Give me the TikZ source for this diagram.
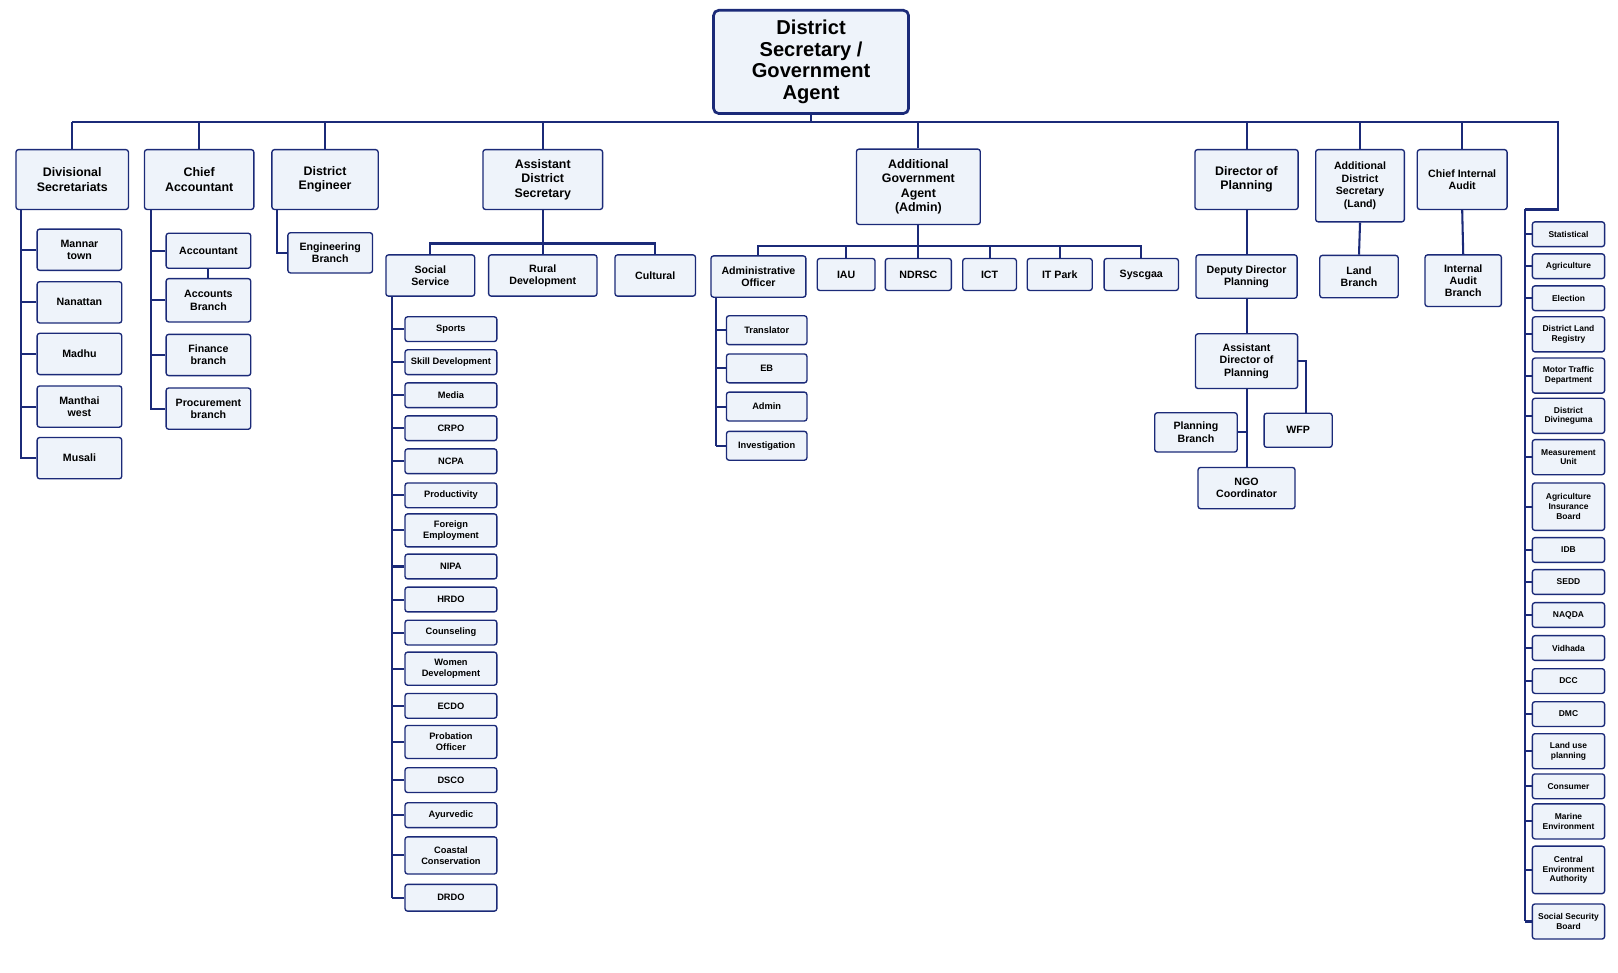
\documentclass[tikz,border=0pt]{standalone}
\usepackage{fontspec}
\setmainfont{Liberation Sans}
\begin{document}
\begin{tikzpicture}[x=1pt,y=-1pt,
 box/.style={draw=navy,fill=boxfill,rounded corners=2.5,line width=1.3,inner sep=1,align=center,font=\bfseries},
 ln/.style={draw=navy,line width=2}]
\definecolor{navy}{HTML}{1B2A78}
\definecolor{boxfill}{HTML}{EEF3FA}
\useasboundingbox[fill=white] (0,0) rectangle (1568,942);
\newcommand\bx[7]{\node[box,minimum width=#4,minimum height=#5,font=\bfseries#7] (#1) at (#2,#3) {#6};}
\def\fa{\fontsize{12}{14}\selectfont}
\def\fb{\fontsize{10.3}{12}\selectfont}
\def\fc{\fontsize{9}{10.5}\selectfont}
\def\fd{\fontsize{8.2}{9.6}\selectfont}
% title
\node[box,line width=2.6,rounded corners=5,minimum width=189,minimum height=100,font=\bfseries\fontsize{19.5}{21}\selectfont] (top) at (786,60) {District\\Secretary /\\Government\\Agent};
\coordinate (bus) at (0,118);
% level 1
\bx{ds}{70}{174}{109}{58}{Divisional\\Secretariats}{\fa}
\bx{ca}{193}{174}{106}{58}{Chief\\Accountant}{\fa}
\bx{de}{315}{174}{103}{58}{District\\Engineer}{\fa}
\bx{ads}{526}{174}{116}{58}{Assistant\\District\\Secretary}{\fa}
\bx{aga}{890}{181}{120}{73}{Additional\\Government\\Agent\\(Admin)}{\fa}
\bx{dp}{1208}{174}{100}{58}{Director of\\Planning}{\fa}
\bx{adsl}{1318}{180}{86}{70}{Additional\\District\\Secretary\\(Land)}{\fb}
\bx{cia}{1417}{174}{87}{58}{Chief Internal\\Audit}{\fb}
\coordinate (rtop) at (1510,203);
\coordinate (rsp) at (1478,203);
\draw[ln] (ds.north|-bus) -- (rtop |- bus) -- (rtop) -- (rsp);
\foreach \n in {top}{\draw[ln] (\n.south) -- (\n.south|-bus);}
\foreach \n in {ds,ca,de,ads,aga,dp,adsl,cia}{\draw[ln] (\n.north) -- (\n.north|-bus);}
% divisional
\coordinate (s1) at (20,203);
\bx{d1}{77}{242}{82}{40}{Mannar\\town}{\fb}
\bx{d2}{77}{293}{82}{40}{Nanattan}{\fb}
\bx{d3}{77}{343}{82}{40}{Madhu}{\fb}
\bx{d4}{77}{394}{82}{40}{Manthai\\west}{\fb}
\bx{d5}{77}{444}{82}{40}{Musali}{\fb}
\draw[ln] (s1) |- (d5.west);
\foreach \n in {d1,d2,d3,d4}{\draw[ln] (\n.west) -- (\n.west-|s1);}
% chief accountant
\coordinate (s2) at (146,203);
\bx{c1}{202}{243}{82}{34}{Accountant}{\fb}
\bx{c2}{202}{291}{82}{42}{Accounts\\Branch}{\fb}
\bx{c3}{202}{344}{82}{40}{Finance\\branch}{\fb}
\bx{c4}{202}{396}{82}{40}{Procurement\\branch}{\fb}
\draw[ln] (s2) |- (c4.west);
\foreach \n in {c1,c2,c3}{\draw[ln] (\n.west) -- (\n.west-|s2);}
\draw[ln] (c1.south) -- (c2.north);
% engineer
\coordinate (s3) at (268,203);
\bx{e1}{320}{245}{82}{39}{Engineering\\Branch}{\fb}
\draw[ln] (s3) |- (e1.west);
% ADS
\coordinate (h1) at (0,236);
\bx{ss}{417}{267}{86}{40}{Social\\Service}{\fb}
\bx{rd}{526}{267}{105}{40}{Rural\\Development}{\fb}
\bx{cu}{635}{267}{78}{40}{Cultural}{\fb}
\draw[ln] (ads.south) -- (ads.south|-h1);
\draw[ln] (ss.north) -- (ss.north|-h1) -- (cu.north|-h1) -- (cu.north);
\draw[ln] (rd.north) -- (rd.north|-h1);
\coordinate (s4) at (380,287);
\foreach \n/\y/\h/\t in {a1/319/24/Sports,a2/351/24/Skill Development,a3/383/24/Media,a4/415/24/CRPO,a5/447/24/NCPA,a6/480/24/Productivity,a7/514/32/{Foreign\\Employment},a8/549/24/NIPA,a9/581/24/HRDO,a10/613/24/Counseling,a11/648/32/{Women\\Development},a12/684/24/ECDO,a13/719/32/{Probation\\Officer},a14/756/24/DSCO,a15/790/24/Ayurvedic,a16/829/36/{Coastal\\Conservation},a17/870/26/DRDO}{
 \bx{\n}{437}{\y}{89}{\h}{\t}{\fc}
 \draw[ln] (\n.west) -- (\n.west-|s4);}
\draw[ln] (s4) -- (a17.west-|s4);
% AGA
\coordinate (h2) at (0,238);
\bx{ao}{735}{268}{92}{40}{Administrative\\Officer}{\fb}
\bx{iau}{820}{266}{56}{31}{IAU}{\fb}
\bx{nd}{890}{266}{64}{31}{NDRSC}{\fb}
\bx{ict}{959}{266}{52}{31}{ICT}{\fb}
\bx{itp}{1027}{266}{63}{31}{IT Park}{\fb}
\bx{sys}{1106}{266}{72}{31}{Syscgaa}{\fb}
\draw[ln] (aga.south) -- (aga.south|-h2);
\draw[ln] (ao.north) -- (ao.north|-h2) -- (sys.north|-h2) -- (sys.north);
\foreach \n in {iau,nd,ict,itp}{\draw[ln] (\n.north) -- (\n.north|-h2);}
\coordinate (s5) at (694,288);
\foreach \n/\y/\t in {o1/320/Translator,o2/357/EB,o3/394/Admin,o4/432/Investigation}{
 \bx{\n}{743}{\y}{78}{28}{\t}{\fc}
 \draw[ln] (\n.west) -- (\n.west-|s5);}
\draw[ln] (s5) -- (o4.west-|s5);
% planning
\bx{ddp}{1208}{268}{98}{42}{Deputy Director\\Planning}{\fb}
\bx{adp}{1208}{350}{99}{53}{Assistant\\Director of\\Planning}{\fb}
\bx{ngo}{1208}{473}{94}{40}{NGO\\Coordinator}{\fb}
\bx{pb}{1159}{419}{80}{38}{Planning\\Branch}{\fb}
\bx{wfp}{1258}{417}{66}{33}{WFP}{\fb}
\draw[ln] (dp.south) -- (ddp.north);
\draw[ln] (ddp.south) -- (adp.north);
\draw[ln] (adp.south) -- (ngo.north);
\draw[ln] (pb.east) -- (pb.east-|adp.south);
\draw[ln] (adp.east|-0,350) -- (1266,350) -- (wfp.north-|1266,0);
% land / audit
\bx{lb}{1317}{268}{76}{41}{Land\\Branch}{\fb}
\bx{iab}{1418}{272}{74}{50}{Internal\\Audit\\Branch}{\fb}
\draw[ln] (adsl.south) -- (lb.north);
\draw[ln] (cia.south) -- (iab.north);
% right column
\foreach \n/\y/\h/\t in {r1/227/24/Statistical,r2/258/24/Agriculture,r3/289/24/Election,r4/324/34/{District Land\\Registry},r5/364/34/{Motor Traffic\\Department},r6/403/34/{District\\Divineguma},r7/443/34/{Measurement\\Unit},r8/491/46/{Agriculture\\Insurance\\Board},r9/533/24/IDB,r10/564/24/SEDD,r11/596/24/NAQDA,r12/628/24/Vidhada,r13/660/24/DCC,r14/692/24/DMC,r15/728/34/{Land use\\planning},r16/762/24/Consumer,r17/796/34/{Marine\\Environment},r18/843/46/{Central\\Environment\\Authority},r19/893/34/{Social Security\\Board}}{
 \bx{\n}{1520}{\y}{70}{\h}{\t}{\fd}
 \draw[ln] (\n.west) -- (\n.west-|rsp);}
\draw[ln] (rsp) -- (r19.west-|rsp);
\end{tikzpicture}
\end{document}
